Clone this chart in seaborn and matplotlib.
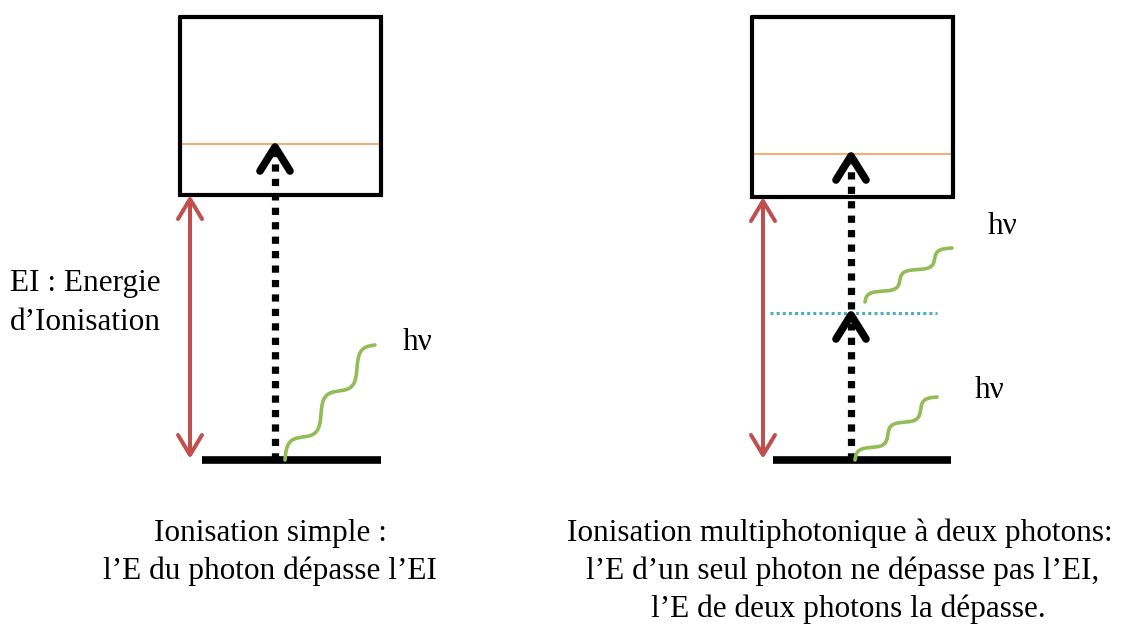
import numpy as np
import pandas as pd
import matplotlib.pyplot as plt
import seaborn as sns

# =========================
# Diagram data (pixel units of the reference)
# =========================
panels = ["simple", "multi"]
box_left = [180, 752]
box_right = [381, 953]
box_top = [17, 17]
box_bottom = [195, 197]
ion_level = [144, 154]          # orange line (ionisation threshold)
ground_y = [460, 460]
ground_x0 = [202, 773]
ground_x1 = [381, 951]
ei_arrow_x = [190, 763]
photon_x = [275, 851]
virtual_level = [None, 313]     # dotted blue intermediate level
virtual_x = [770, 937]

# green photon waves: (x0, y0, x1, y1)
waves = [(285, 460, 375, 345), (855, 460, 937, 397), (865, 302, 952, 248)]
hv_pos = [(418, 342), (1003, 226), (990, 391)]

captions = [
    ["Ionisation simple :", "l\u2019E du photon dépasse l\u2019EI"],
    ["Ionisation multiphotonique à deux photons:",
     "l\u2019E d\u2019un seul photon ne dépasse pas l\u2019EI,",
     "l\u2019E de deux photons la dépasse."],
]
caption_x = [[270, 270], [840, 843, 848]]

GREEN = "#92BC55"
RED = "#C0504D"
ORANGE = "#F79646"
BLUE = "#4BACC6"
FS = 22.5

sns.set_theme(style="white")
plt.rcParams["font.family"] = ["Liberation Serif", "DejaVu Serif"]
plt.rcParams["text.color"] = "black"

fig = plt.figure(figsize=(11.21, 6.24), dpi=100)
ax = fig.add_axes([0, 0, 1, 1])
ax.set_xlim(0, 1121)
ax.set_ylim(624, 0)
ax.axis("off")


def chevron(x, y, w, h, lw, color):
    # open arrowhead pointing up, tip at (x, y)
    ax.plot([x - w / 2, x, x + w / 2], [y + h, y, y + h], color=color, lw=lw,
            solid_capstyle="round", solid_joinstyle="round", zorder=5)


def chevron_down(x, y, w, h, lw, color):
    ax.plot([x - w / 2, x, x + w / 2], [y - h, y, y - h], color=color, lw=lw,
            solid_capstyle="round", solid_joinstyle="round", zorder=5)


def dotted_up(x, y0, y1):
    ax.plot([x, x], [y0, y1], color="black", lw=5.2, dashes=(1, 1),
            solid_capstyle="butt", dash_capstyle="butt", zorder=4)


for i in range(2):
    # box
    ax.plot([box_left[i], box_right[i], box_right[i], box_left[i], box_left[i]],
            [box_top[i], box_top[i], box_bottom[i], box_bottom[i], box_top[i]],
            color="black", lw=3, solid_joinstyle="miter", zorder=3)
    # ionisation threshold
    ax.plot([box_left[i], box_right[i]], [ion_level[i], ion_level[i]],
            color=ORANGE, lw=1.1, zorder=2)
    # ground level
    ax.plot([ground_x0[i], ground_x1[i]], [ground_y[i], ground_y[i]],
            color="black", lw=5.5, solid_capstyle="butt", zorder=3)
    # EI double arrow
    top = box_bottom[i] + 4
    bot = ground_y[i] - 5
    ax.plot([ei_arrow_x[i], ei_arrow_x[i]], [top + 2, bot - 2], color=RED, lw=2.9, zorder=3)
    chevron(ei_arrow_x[i], top, 24, 20, 2.9, RED)
    chevron_down(ei_arrow_x[i], bot, 24, 20, 2.9, RED)

# photon arrows
dotted_up(photon_x[0], ground_y[0], ion_level[0] + 10)
chevron(photon_x[0], ion_level[0] + 3, 30, 24, 5.5, "black")

dotted_up(photon_x[1], ground_y[1], virtual_level[1] + 10)
chevron(photon_x[1], virtual_level[1] + 2, 30, 24, 5.5, "black")
dotted_up(photon_x[1], virtual_level[1] - 4, ion_level[1] + 10)
chevron(photon_x[1], ion_level[1] + 2, 30, 24, 5.5, "black")

# virtual level
ax.plot(virtual_x, [virtual_level[1], virtual_level[1]], color=BLUE, lw=2.2,
        dashes=(1, 1), dash_capstyle="butt", zorder=2)

# photon waves (staircase squiggle, 2.5 periods)
t = np.linspace(0, 1, 200)
k = 5 * np.pi
for x0, y0, x1, y1 in waves:
    wx = x0 + (x1 - x0) * (t - 0.8 * np.sin(k * t) / k)
    wy = y0 + (y1 - y0) * (t + 0.8 * np.sin(k * t) / k)
    sns.lineplot(x=wx, y=wy, sort=False, color=GREEN, lw=2.6, ax=ax, zorder=4)

for x, y in hv_pos:
    ax.text(x, y, "h\u03bd", fontsize=FS, ha="center", va="center")

ax.text(85, 284, "EI : Energie", fontsize=FS, ha="center", va="center")
ax.text(85, 322, "d\u2019Ionisation", fontsize=FS, ha="center", va="center")

for i in range(2):
    for j, line in enumerate(captions[i]):
        ax.text(caption_x[i][j], 533 + 38 * j, line, fontsize=FS,
                ha="center", va="center")

plt.savefig("out.png", dpi=100)
